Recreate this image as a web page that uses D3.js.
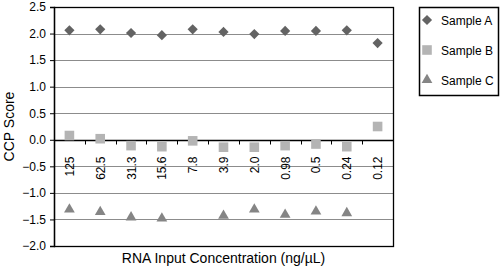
<!DOCTYPE html>
<html>
<head>
<meta charset="utf-8">
<script src="https://cdn.jsdelivr.net/npm/d3@7"></script>
<style>
  body { margin: 0; background: #fff; }
  text { font-family: "Liberation Sans", Arial, sans-serif; }
</style>
</head>
<body>
<div id="chart"></div>
<script>
// category labels (RNA input, ng/uL)
const categories = ["125", "62.5", "31.3", "15.6", "7.8", "3.9", "2.0", "0.98", "0.5", "0.24", "0.12"];
// CCP scores per sample, null where no point is shown
const sampleA = [2.06, 2.08, 2.01, 1.97, 2.08, 2.03, 1.99, 2.05, 2.05, 2.06, 1.82];
const sampleB = [0.08, 0.02, -0.11, -0.13, -0.02, -0.14, -0.14, -0.11, -0.08, -0.13, 0.25];
const sampleC = [-1.31, -1.36, -1.46, -1.48, null, -1.43, -1.31, -1.41, -1.35, -1.38, null];
const yTicks = [2.5, 2.0, 1.5, 1.0, 0.5, 0.0, -0.5, -1.0, -1.5, -2.0];

const series = [
  { name: "Sample A", values: sampleA, shape: d3.symbolSquare, rotate: 45, color: "#636363", size: 52 },
  { name: "Sample B", values: sampleB, shape: d3.symbolSquare, rotate: 0, color: "#b4b4b4", size: 92 },
  { name: "Sample C", values: sampleC, shape: d3.symbolTriangle, rotate: 0, color: "#858585", size: 50 }
];

const svgWidth = 500, svgHeight = 268;
const margin = { top: 7, left: 54, right: 107, bottom: 22 };
const width = svgWidth - margin.left - margin.right;
const height = svgHeight - margin.top - margin.bottom;

const svg = d3.select("#chart").append("svg")
  .attr("width", svgWidth)
  .attr("height", svgHeight);

const g = svg.append("g").attr("transform", `translate(${margin.left},${margin.top})`);

const x = d3.scaleBand().domain(categories).range([0, width]);
const y = d3.scaleLinear().domain([-2, 2.5]).range([height, 0]);

// gridlines
g.append("g").selectAll("line")
  .data(yTicks.filter(t => t !== 0 && t !== 2.5 && t !== -2))
  .join("line")
  .attr("x1", 0).attr("x2", width)
  .attr("y1", d => Math.round(y(d)) + 0.5).attr("y2", d => Math.round(y(d)) + 0.5)
  .attr("stroke", "#8c8c8c").attr("stroke-width", 1);

// frame
g.append("rect")
  .attr("x", 0.5).attr("y", 0.5)
  .attr("width", width).attr("height", height)
  .attr("fill", "none").attr("stroke", "#000").attr("stroke-width", 1.3);

// y axis
const yAxis = g.append("g")
  .call(d3.axisLeft(y).tickValues(yTicks).tickFormat(d3.format(".1f")).tickSize(4).tickPadding(4));
yAxis.select(".domain").attr("stroke-width", 1.3);
yAxis.selectAll("text").attr("font-size", 12).attr("fill", "#000");

// category axis at zero
const y0 = Math.round(y(0)) + 0.5;
g.append("line")
  .attr("x1", 0).attr("x2", width)
  .attr("y1", y0).attr("y2", y0)
  .attr("stroke", "#000").attr("stroke-width", 1.6);

g.append("g").selectAll("line")
  .data(categories.slice(1))
  .join("line")
  .attr("x1", d => Math.round(x(d)) + 0.5).attr("x2", d => Math.round(x(d)) + 0.5)
  .attr("y1", y0).attr("y2", y0 + 4)
  .attr("stroke", "#000").attr("stroke-width", 1);

g.append("g").selectAll("text")
  .data(categories)
  .join("text")
  .attr("transform", d => `translate(${x(d) + x.bandwidth() / 2 + 4.5},${y0 + 16}) rotate(-90)`)
  .attr("text-anchor", "end")
  .attr("font-size", 12)
  .text(d => d);

const marker = s => d3.symbol().type(s.shape).size(s.size)();

// points
series.forEach(s => {
  g.append("g").selectAll("path")
    .data(s.values.map((v, i) => ({ cat: categories[i], v })).filter(d => d.v !== null))
    .join("path")
    .attr("d", marker(s))
    .attr("transform", d => `translate(${x(d.cat) + x.bandwidth() / 2},${y(d.v)}) rotate(${s.rotate})`)
    .attr("fill", s.color);
});

// axis titles
svg.append("text")
  .attr("transform", `translate(14,${margin.top + height / 2}) rotate(-90)`)
  .attr("text-anchor", "middle")
  .attr("font-size", 14)
  .text("CCP Score");

svg.append("text")
  .attr("x", margin.left + width / 2)
  .attr("y", 263)
  .attr("text-anchor", "middle")
  .attr("font-size", 14)
  .text("RNA Input Concentration (ng/µL)");

// legend
const legend = svg.append("g").attr("transform", "translate(419,7)");
legend.append("rect")
  .attr("x", 0.5).attr("y", 0.5)
  .attr("width", 79).attr("height", 88)
  .attr("fill", "#fff").attr("stroke", "#000").attr("stroke-width", 1.5);

series.forEach((s, i) => {
  const row = legend.append("g").attr("transform", `translate(8,${13 + i * 30})`);
  row.append("path")
    .attr("d", marker(s))
    .attr("transform", `rotate(${s.rotate})`)
    .attr("fill", s.color);
  row.append("text")
    .attr("x", 14).attr("y", 4.5)
    .attr("font-size", 12)
    .text(s.name);
});
</script>
</body>
</html>
